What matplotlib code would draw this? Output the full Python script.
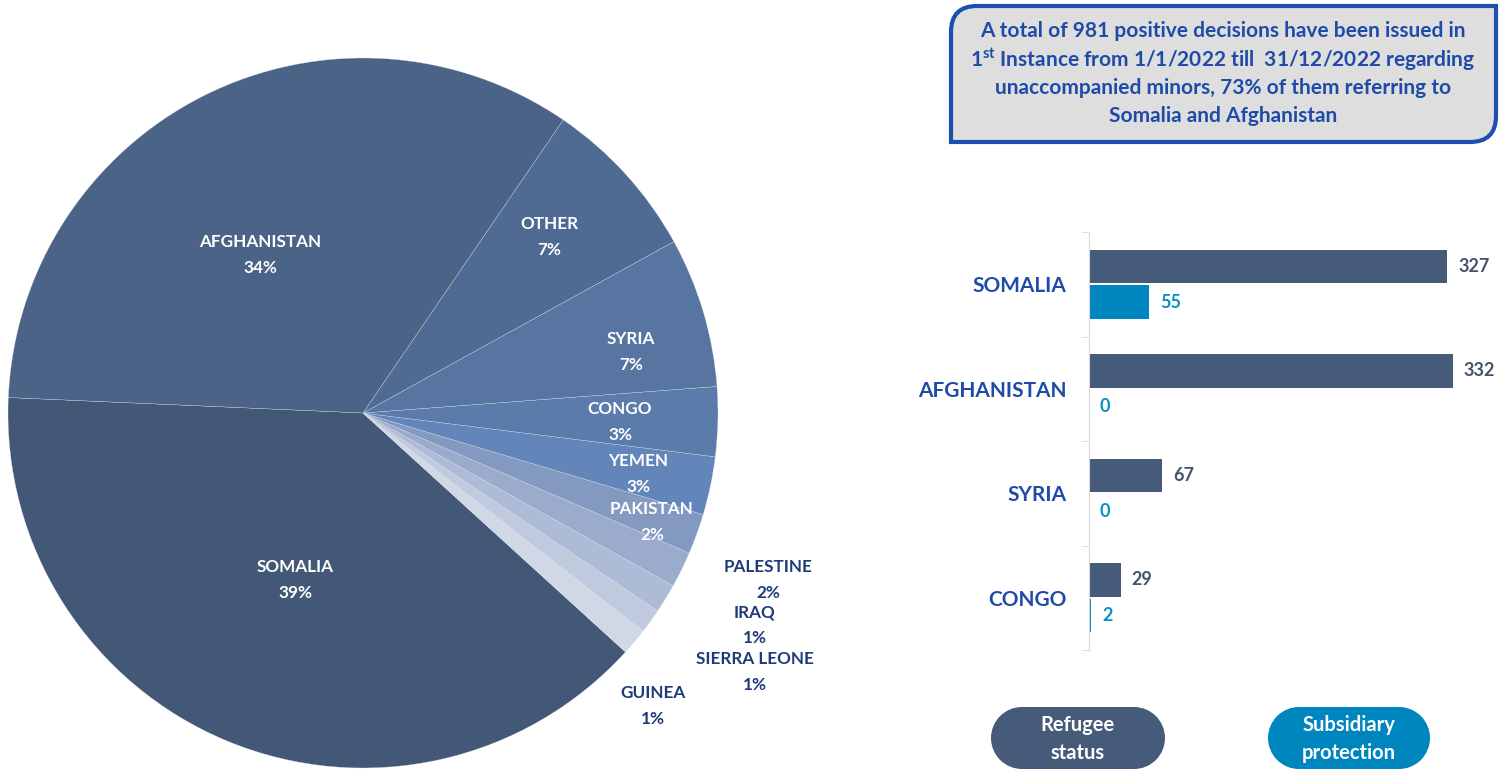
import matplotlib.pyplot as plt
import numpy as np
from matplotlib.patches import Rectangle, Circle, PathPatch
from matplotlib.path import Path

plt.rcParams['font.family'] = ['Lato', 'DejaVu Sans']
plt.rcParams['font.weight'] = 'bold'
plt.rcParams['mathtext.default'] = 'regular'

# pie: positive decisions by country of origin
countries = ["SOMALIA", "GUINEA", "SIERRA LEONE", "IRAQ", "PALESTINE", "PAKISTAN",
             "YEMEN", "CONGO", "SYRIA", "OTHER", "AFGHANISTAN"]
decisions = [382, 12, 11, 13, 16, 18, 26, 31, 67, 73, 332]
pie_colors = ["#435876", "#d0d8e6", "#bfcadf", "#adbbd6", "#9aabcb", "#8399c0",
              "#6286b9", "#5b7bab", "#5775a0", "#506b93", "#4a6387"]

# bars: refugee status vs subsidiary protection, top countries
bar_countries = ["SOMALIA", "AFGHANISTAN", "SYRIA", "CONGO"]
refugee = [327, 332, 67, 29]
subsidiary = [55, 0, 0, 2]

DARK = "#465a7a"
BLUE = "#0086bf"
NAVY = "#1f4ba8"

W, H = 1511, 776
fig = plt.figure(figsize=(W / 100, H / 100), dpi=100)


def px_rect(x0, y0, x1, y1):
    return [x0 / W, (H - y1) / H, (x1 - x0) / W, (y1 - y0) / H]


# ---- pie ----
ax = fig.add_axes(px_rect(8, 58, 718, 768))
ax.pie(decisions, colors=pie_colors, startangle=177.5, counterclock=True, radius=1,
       wedgeprops=dict(edgecolor="#dfe5ef", linewidth=0.2))
ax.set_xlim(-1, 1)
ax.set_ylim(-1, 1)
ax.set_aspect("equal")

total = sum(decisions)
label_pos = {
    "SOMALIA": (-0.19, -0.47), "AFGHANISTAN": (-0.29, 0.445),
    "OTHER": (0.524, 0.496), "SYRIA": (0.755, 0.172), "CONGO": (0.724, -0.025),
    "YEMEN": (0.775, -0.172), "PAKISTAN": (0.814, -0.307),
    "PALESTINE": (1.141, -0.470), "IRAQ": (1.104, -0.597),
    "SIERRA LEONE": (1.104, -0.730), "GUINEA": (0.817, -0.825),
}
outside = {"PALESTINE", "IRAQ", "SIERRA LEONE", "GUINEA"}
for name, val in zip(countries, decisions):
    x, y = label_pos[name]
    col = "#1f3a78" if name in outside else "white"
    ax.text(x, y, f"{name}\n{round(val / total * 100):.0f}%", ha="center", va="center",
            color=col, fontsize=12.3, fontweight="bold", linespacing=1.75)

# ---- bars ----
bx = fig.add_axes(px_rect(1089, 232, 1505, 650))
ypos = np.arange(len(bar_countries))
bh = 0.32
bx.barh(ypos - 0.17, refugee, height=bh, color=DARK)
bx.barh(ypos + 0.17, subsidiary, height=bh, color=BLUE)
xmax = 416 / 1.096
bx.set_xlim(0, xmax)
bx.set_ylim(3.5, -0.5)
off = xmax * 11 / 416
for y, r, s in zip(ypos, refugee, subsidiary):
    bx.text(r + off, y - 0.17, str(r), va="center", ha="left", color="#44546a",
            fontsize=13, fontweight="bold")
    bx.text(s + off, y + 0.17, str(s), va="center", ha="left", color="#0a8fc4",
            fontsize=13, fontweight="bold")
for s in ["top", "right", "bottom"]:
    bx.spines[s].set_visible(False)
bx.spines["left"].set_color("#d9d9d9")
bx.set_xticks([])
bx.set_yticks(ypos)
bx.set_yticklabels(bar_countries, color=NAVY, fontsize=15, fontweight="bold")
bx.tick_params(axis="y", which="major", length=0, pad=16)
bx.set_yticks(np.arange(-0.5, 4, 1), minor=True)
bx.tick_params(axis="y", which="minor", length=5, color="#d9d9d9")

# ---- overlay for box and legend (1 unit = 1 px) ----
ov = fig.add_axes([0, 0, 1, 1])
ov.set_xlim(0, W)
ov.set_ylim(H, 0)
ov.axis("off")

# box with two rounded diagonal corners
x0, y0, x1, y1, r = 951, 6, 1496, 142, 26
verts = [(x0, y0 + r), (x0, y0), (x0 + r, y0), (x1, y0), (x1, y1 - r), (x1, y1),
         (x1 - r, y1), (x0, y1), (x0, y0 + r)]
codes = [Path.MOVETO, Path.CURVE3, Path.CURVE3, Path.LINETO, Path.LINETO,
         Path.CURVE3, Path.CURVE3, Path.LINETO, Path.CLOSEPOLY]
ov.add_patch(PathPatch(Path(verts, codes), facecolor="#dedede", edgecolor="#1d4fb0",
                       linewidth=3))
lines = ["A total of 981 positive decisions have been issued in",
         r"1$^{st}$ Instance from 1/1/2022 till  31/12/2022 regarding",
         "unaccompanied minors, 73% of them referring to",
         "Somalia and Afghanistan"]
for i, t in enumerate(lines):
    ov.text(1223, 31 + 28.5 * i, t, ha="center", va="center", color=NAVY,
            fontsize=15, fontweight="bold")

# legend pills: rectangle with semicircular ends
ph = 62
for (lx0, lx1, txt, col) in [(991, 1165, "Refugee\nstatus", DARK),
                              (1268, 1430, "Subsidiary\nprotection", BLUE)]:
    rad = ph / 2
    cy = 707 + rad
    ov.add_patch(Rectangle((lx0 + rad, 707), lx1 - lx0 - ph, ph, facecolor=col,
                           edgecolor="none"))
    ov.add_patch(Circle((lx0 + rad, cy), rad, facecolor=col, edgecolor="none"))
    ov.add_patch(Circle((lx1 - rad, cy), rad, facecolor=col, edgecolor="none"))
    ov.text((lx0 + lx1) / 2, 739, txt, ha="center", va="center", color="white",
            fontsize=14.5, fontweight="bold", linespacing=1.45)

fig.savefig("out.png", dpi=100)
